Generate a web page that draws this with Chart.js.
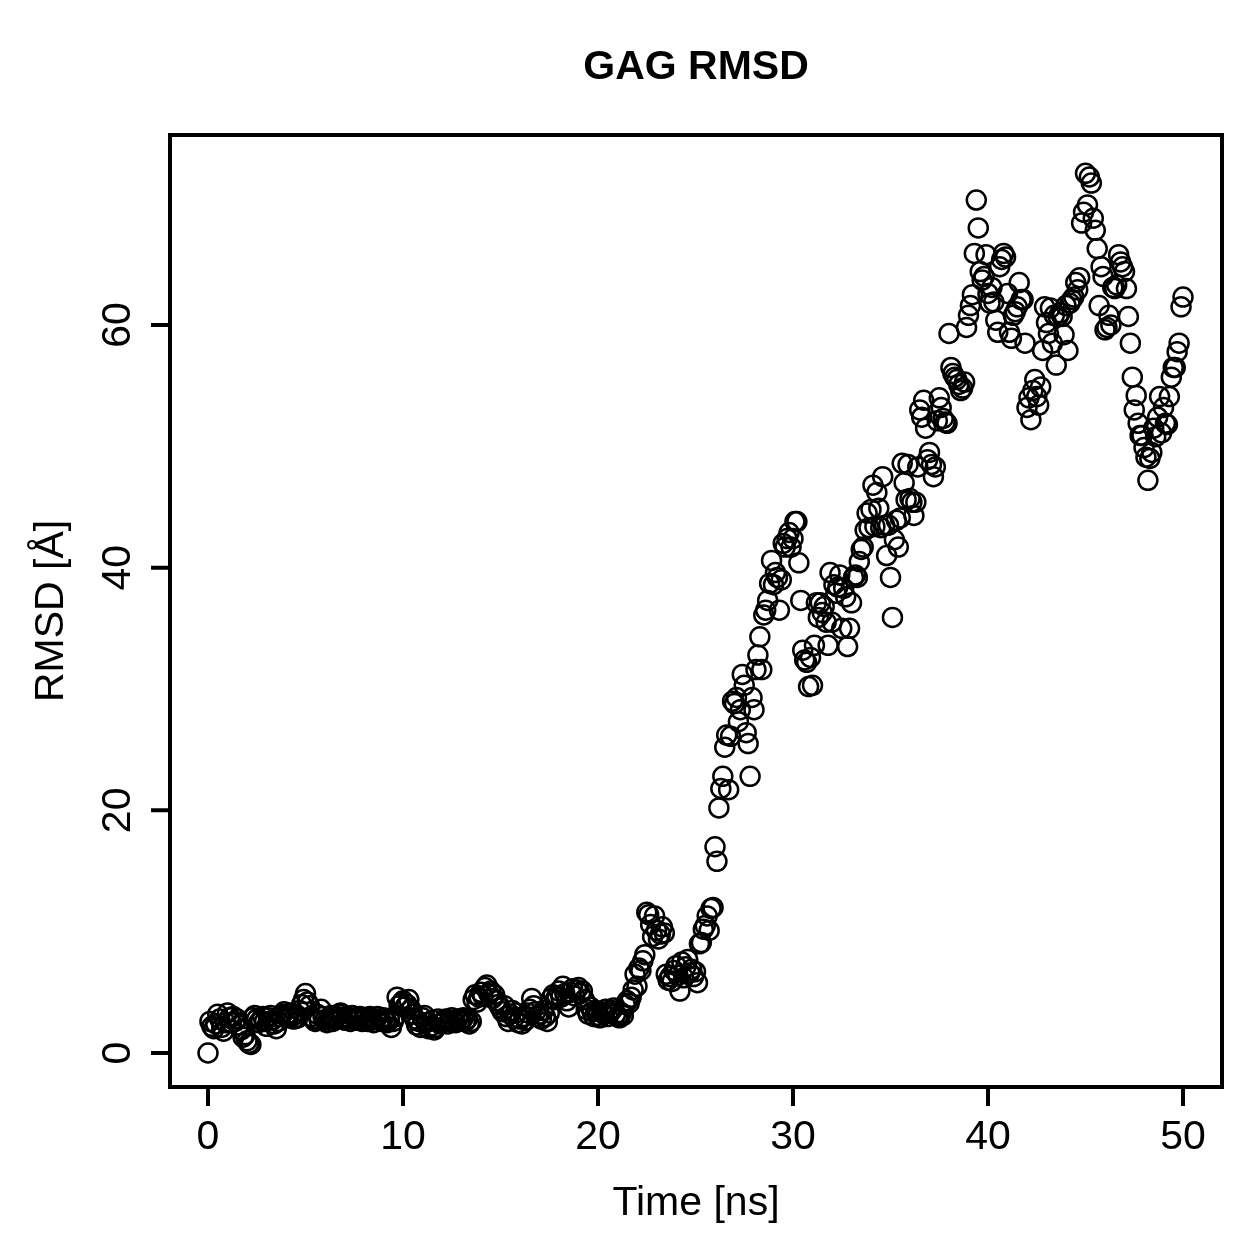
<!DOCTYPE html>
<html><head><meta charset="utf-8">
<script src="https://cdn.jsdelivr.net/npm/chart.js@4/dist/chart.umd.min.js"></script>
<style>html,body{margin:0;padding:0;background:#fff}canvas{display:block}</style>
</head><body><canvas id="c" width="1259" height="1259"></canvas>
<script>
const chartTitle = 'GAG RMSD';
const xLabel = 'Time [ns]';
const yLabel = 'RMSD [Å]';
const xTicks = [0, 10, 20, 30, 40, 50];
const yTicks = [0, 20, 40, 60];
const timeStep = 0.1; // ns between frames

const rmsd_0_10 = [
 0, 2.6, 2.2, 2.0, 2.4, 3.2, 2.8, 2.1, 1.8, 2.5,
 3.3, 2.9, 2.5, 3.0, 2.6, 2.8, 2.3, 1.9, 1.3, 1.5,
 1.0, 0.8, 0.7, 2.9, 3.1, 2.8, 2.5, 2.7, 3.0, 2.6,
 2.2, 2.9, 3.1, 2.7, 2.4, 2.0, 2.6, 3.0, 3.2, 3.4,
 3.1, 2.9, 3.3, 3.0, 2.8, 3.2, 2.9, 3.5, 4.0, 4.4,
 4.9, 4.2, 3.9, 3.0, 2.8, 2.6, 3.2, 2.7, 3.6, 3.0,
 2.7, 2.5, 2.9, 3.1, 2.6, 2.8, 3.0, 3.2, 3.3, 2.9,
 2.7, 3.0, 2.8, 2.6, 3.1, 2.9, 2.7, 2.8, 3.0, 2.6,
 2.8, 2.9, 2.6, 3.0, 2.7, 2.5, 2.8, 3.0, 2.7, 2.6,
 2.9, 2.7, 2.5, 2.8, 2.1, 2.6, 3.0, 4.6, 3.9, 4.1
];
const rmsd_10_20 = [
 4.3, 3.8, 4.0, 4.4, 3.6, 3.2, 2.8, 2.3, 2.6, 2.1,
 2.9, 3.1, 2.5, 2.0, 2.2, 2.7, 1.9, 2.1, 2.8, 2.4,
 2.5, 2.7, 2.8, 2.4, 2.6, 2.9, 2.7, 2.5, 2.8, 2.6,
 2.7, 2.9, 2.6, 2.8, 2.4, 2.6, 4.4, 4.8, 4.2, 4.6,
 5.0, 4.7, 5.4, 5.6, 4.9, 5.1, 4.5, 4.8, 4.3, 4.0,
 3.7, 3.4, 3.9, 3.0, 2.6, 3.2, 3.5, 2.9, 3.3, 2.5,
 2.8, 2.4, 3.0, 2.7, 3.3, 3.6, 4.5, 3.9, 3.4, 3.0,
 3.2, 2.8, 3.5, 3.0, 2.6, 3.3, 4.5, 4.8, 4.4, 4.7,
 5.1, 4.6, 5.5, 4.9, 4.3, 3.8, 5.0, 5.3, 4.7, 5.2,
 5.4, 4.9, 5.1, 4.4, 3.6, 3.2, 3.8, 3.4, 3.0, 3.5
];
const rmsd_20_30 = [
 3.1, 2.9, 3.4, 3.2, 3.6, 3.0, 3.3, 3.5, 3.7, 3.2,
 3.0, 2.9, 3.3, 3.1, 4.0, 4.3, 4.1, 4.6, 5.2, 6.5,
 5.5, 7.0, 6.8, 7.6, 8.1, 11.6, 11.4, 10.6, 9.6, 11.3,
 10.1, 9.4, 9.8, 10.4, 9.9, 6.5, 6.0, 6.3, 5.9, 6.8,
 7.2, 6.4, 5.1, 7.5, 6.2, 7.1, 7.7, 6.6, 6.9, 6.3,
 6.7, 5.8, 9.0, 9.1, 10.2, 10.5, 11.3, 10.1, 11.9, 12.0,
 17.0, 15.8, 20.2, 21.8, 22.8, 25.2, 26.2, 21.7, 26.1, 29.0,
 28.8, 29.3, 27.3, 28.3, 31.2, 30.3, 26.4, 25.5, 22.8, 29.3,
 28.3, 31.6, 32.8, 34.3, 31.6, 36.1, 36.5, 37.3, 38.7, 40.6,
 38.6, 39.6, 39.2, 36.5, 39.0, 42.0, 41.7, 42.4, 42.9, 41.7
];
const rmsd_30_40 = [
 42.4, 43.8, 43.8, 40.4, 37.3, 33.2, 32.4, 32.2, 30.2, 32.6,
 30.3, 33.6, 37.1, 35.9, 37.1, 36.3, 36.8, 35.5, 33.6, 39.6,
 35.5, 38.6, 37.9, 38.4, 39.4, 35.0, 38.3, 37.6, 33.5, 35.0,
 37.1, 39.2, 39.4, 39.2, 40.5, 41.5, 41.7, 43.1, 44.5, 43.3,
 44.8, 46.8, 43.4, 46.2, 44.9, 43.3, 47.5, 43.5, 41.0, 43.5,
 39.2, 35.9, 42.3, 43.9, 41.7, 44.1, 48.6, 47.0, 45.6, 48.5,
 45.7, 45.4, 44.3, 45.4, 48.3, 53.0, 52.4, 53.8, 51.5, 48.9,
 49.5, 48.5, 47.5, 48.3, 52.1, 54.0, 53.2, 52.3, 52.0, 51.9,
 59.3, 56.5, 56.0, 55.7, 55.5, 55.1, 54.6, 54.8, 55.3, 59.8,
 60.8, 61.6, 62.5, 65.9, 70.3, 68.0, 64.4, 63.7, 64.0, 65.8
];
const rmsd_40_50 = [
 62.6, 61.8, 63.1, 61.9, 60.4, 59.4, 64.8, 65.4, 65.9, 65.6,
 62.6, 59.4, 58.9, 60.8, 61.1, 61.5, 63.5, 62.1, 62.1, 58.5,
 53.2, 54.0, 52.2, 54.6, 55.5, 54.1, 53.4, 54.9, 57.9, 61.5,
 60.2, 59.3, 61.4, 58.5, 60.8, 56.7, 60.7, 61.0, 60.7, 59.2,
 61.6, 57.9, 61.8, 62.1, 62.3, 63.5, 62.9, 63.9, 68.4, 69.3,
 72.5, 69.9, 72.2, 71.7, 68.8, 67.8, 66.3, 61.6, 64.8, 64.0,
 59.6, 59.8, 60.8, 60.0, 63.1, 63.0, 63.3, 65.8, 65.2, 64.8,
 64.4, 63.0, 60.7, 58.5, 55.7, 53.0, 54.2, 51.9, 50.9, 50.9,
 49.9, 49.1, 47.2, 49.0, 49.5, 51.5, 50.8, 52.4, 54.1, 51.1,
 53.2, 51.9, 51.8, 54.1, 55.7, 56.5, 56.5, 57.8, 58.5, 61.5,
 62.3
];

const rmsd = [].concat(rmsd_0_10, rmsd_10_20, rmsd_20_30, rmsd_30_40, rmsd_40_50);
const points = rmsd.map((v, i) => ({ x: Math.round(i * timeStep * 10) / 10, y: v }));

const FONT = '"Liberation Sans", Arial, Helvetica, sans-serif';
const MARK_R = 9.5;

const rBasePlugin = {
  id: 'rbase',
  beforeDraw(chart) {
    const ctx = chart.ctx;
    ctx.save();
    ctx.fillStyle = '#ffffff';
    ctx.fillRect(0, 0, chart.width, chart.height);
    ctx.restore();
  },
  afterDraw(chart) {
    const { ctx, chartArea: a, scales: { x, y } } = chart;
    ctx.save();
    ctx.strokeStyle = '#000';
    ctx.fillStyle = '#000';
    ctx.lineWidth = 4;
    ctx.lineCap = 'butt';
    ctx.strokeRect(a.left, a.top, a.right - a.left, a.bottom - a.top);
    const tickLen = 19;
    ctx.beginPath();
    xTicks.forEach(t => {
      const px = x.getPixelForValue(t);
      ctx.moveTo(px, a.bottom);
      ctx.lineTo(px, a.bottom + tickLen);
    });
    yTicks.forEach(t => {
      const py = y.getPixelForValue(t);
      ctx.moveTo(a.left, py);
      ctx.lineTo(a.left - tickLen, py);
    });
    ctx.stroke();

    ctx.font = '41px ' + FONT;
    ctx.textAlign = 'center';
    ctx.textBaseline = 'alphabetic';
    xTicks.forEach(t => {
      ctx.fillText(String(t), x.getPixelForValue(t), 1149);
    });
    yTicks.forEach(t => {
      ctx.save();
      ctx.translate(130, y.getPixelForValue(t));
      ctx.rotate(-Math.PI / 2);
      ctx.fillText(String(t), 0, 0);
      ctx.restore();
    });
    const cx = (a.left + a.right) / 2;
    const cy = (a.top + a.bottom) / 2;
    ctx.fillText(xLabel, cx, 1215);
    ctx.save();
    ctx.translate(63, cy);
    ctx.rotate(-Math.PI / 2);
    ctx.fillText(yLabel, 0, 0);
    ctx.restore();

    ctx.font = 'bold 41px ' + FONT;
    ctx.fillText(chartTitle, cx, 79);
    ctx.restore();
  }
};

new Chart(document.getElementById('c'), {
  type: 'scatter',
  data: {
    datasets: [{
      data: points,
      pointStyle: 'circle',
      pointRadius: MARK_R,
      pointHoverRadius: MARK_R,
      pointBorderWidth: 2.5,
      pointBorderColor: '#000',
      pointBackgroundColor: 'rgba(0,0,0,0)'
    }]
  },
  options: {
    responsive: false,
    animation: false,
    events: [],
    elements: { point: { radius: MARK_R, hoverRadius: MARK_R, borderWidth: 2.5, pointStyle: 'circle' } },
    layout: { padding: { left: 170, top: 135, right: 37, bottom: 172 } },
    plugins: { legend: { display: false }, tooltip: { enabled: false } },
    scales: {
      x: { type: 'linear', min: -1.949, max: 52.0, display: false },
      y: { type: 'linear', min: -2.802, max: 75.66, display: false }
    }
  },
  plugins: [rBasePlugin]
});
</script>
</body></html>
